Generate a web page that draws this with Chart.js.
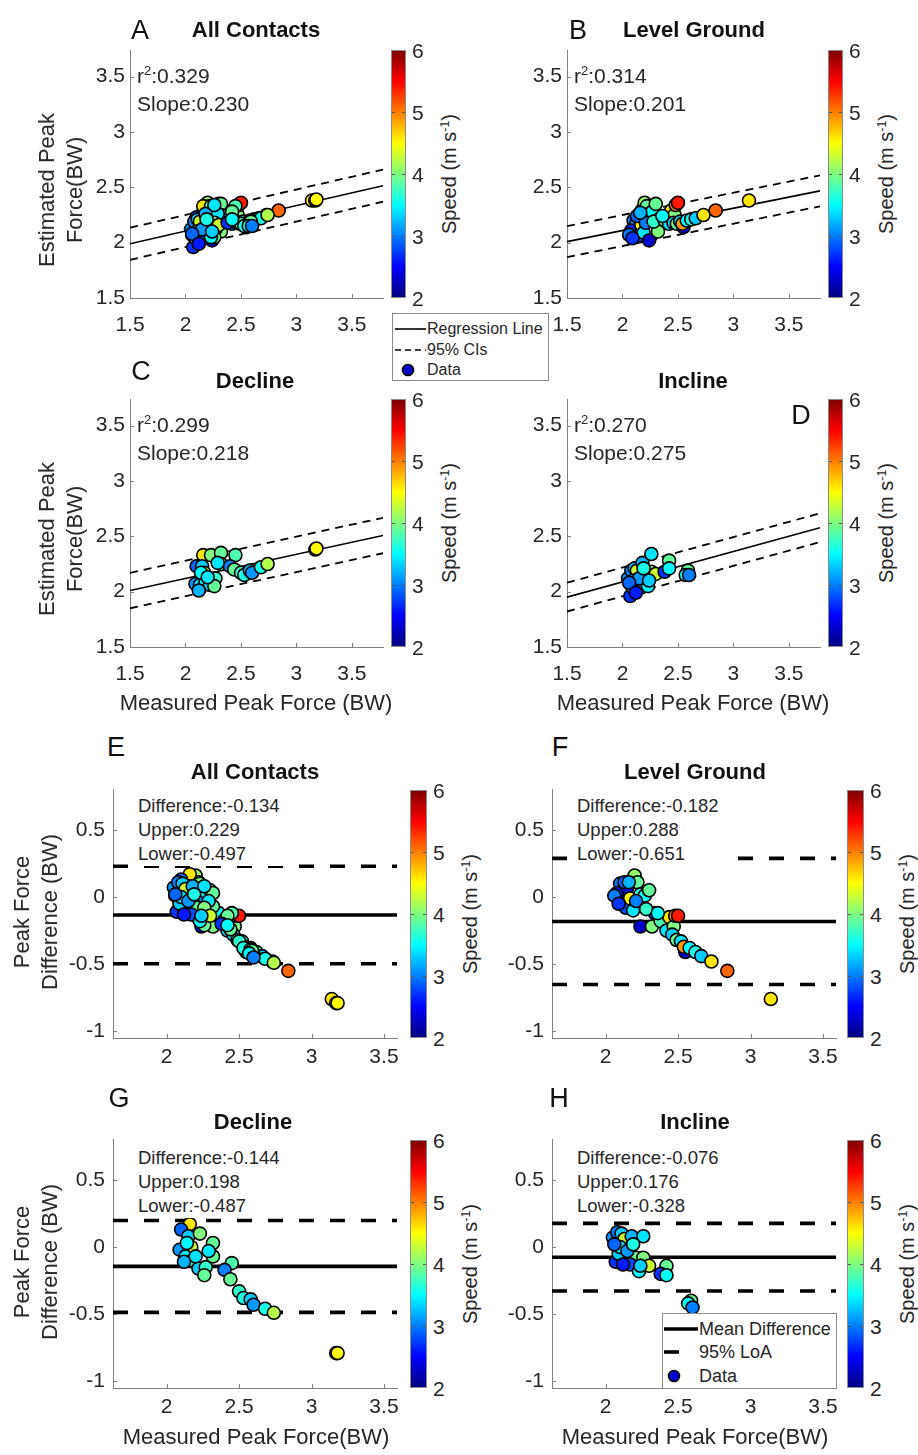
<!DOCTYPE html>
<html>
<head>
<meta charset="utf-8">
<script src="https://cdn.jsdelivr.net/npm/chart.js@4.4.1/dist/chart.umd.min.js"></script>
<style>
  html, body { margin: 0; padding: 0; background: #fff; }
  #fig { position: relative; width: 918px; height: 1455px; overflow: hidden;
         font-family: "Liberation Sans", Arial, Helvetica, sans-serif; color: #262626; }
  .abs { position: absolute; }
  .t { position: absolute; white-space: nowrap; line-height: 1; transform: translate(-50%, -50%); }
  .note { position: absolute; background: #fff; white-space: nowrap; z-index: 3; }
  .sup { font-size: 0.62em; position: relative; top: -0.55em; }
  .cb { position: absolute; box-sizing: border-box; border: 1px solid #8c8c8c; z-index: 2; }
  .cbt { position: absolute; background: #555; z-index: 3; }
  .legend { position: absolute; background: #fff; border: 1px solid #8c8c8c; box-sizing: border-box; z-index: 4; }
  .legend div { position: absolute; white-space: nowrap; line-height: 1; transform: translateY(-50%); }
  .legend svg { position: absolute; left: 0; top: 0; }
  .z { z-index: 3; }
</style>
</head>
<body>
<div id="fig"></div>
<script>
// ---- contact data, one set of arrays per surface ----
// measured peak force (BW), estimated peak force (BW),
// estimated minus measured (BW) and running speed (m/s)
const levelMeasured  = [2.10,2.12,2.08,2.15,2.18,2.20,2.22,2.14,2.17,2.19,2.24,2.27,2.24,2.30,2.32,2.34,2.13,2.21,2.28,2.38,2.42,2.44,2.47,2.48,2.50,2.46,2.49,2.52,2.55,2.54,2.58,2.62,2.66,2.73,2.84,3.14,2.06,2.09,2.16,2.36];
const levelEstimated = [2.20,2.16,2.11,2.22,2.30,2.36,2.33,2.06,2.16,2.09,2.26,2.28,2.02,2.35,2.10,2.22,2.24,2.18,2.19,2.20,2.17,2.29,2.25,2.34,2.36,2.18,2.17,2.19,2.14,2.17,2.20,2.21,2.22,2.25,2.29,2.38,2.07,2.04,2.27,2.24];
const levelDiff      = [0.10,0.04,0.03,0.07,0.12,0.16,0.11,-0.08,-0.01,-0.10,0.02,0.01,-0.22,0.05,-0.22,-0.12,0.11,-0.03,-0.09,-0.18,-0.25,-0.15,-0.22,-0.14,-0.14,-0.28,-0.32,-0.33,-0.41,-0.37,-0.38,-0.41,-0.44,-0.48,-0.55,-0.76,0.01,-0.05,0.11,-0.12];
const levelSpeed     = [3.0,3.2,2.6,2.4,3.3,4.1,3.9,2.8,4.5,3.4,3.6,3.5,2.3,3.9,4.0,2.6,2.9,3.0,3.7,3.8,3.4,4.6,4.0,5.0,5.4,3.3,3.9,3.4,2.3,4.9,3.5,3.6,3.3,4.6,5.1,4.6,3.0,2.7,3.2,3.5];

const declineMeasured  = [2.16,2.10,2.15,2.23,2.32,2.17,2.09,2.13,2.18,2.22,2.27,2.32,2.45,2.40,2.26,2.44,2.50,2.53,2.58,2.60,2.68,2.74,3.17,3.18,2.14,2.20,2.12,2.29];
const declineEstimated = [2.33,2.23,2.23,2.33,2.35,2.17,2.07,2.06,2.08,2.06,2.12,2.25,2.33,2.23,2.05,2.20,2.17,2.15,2.19,2.17,2.22,2.25,2.38,2.39,2.17,2.13,2.01,2.26];
const declineDiff      = [0.17,0.13,0.08,0.10,0.03,0.00,-0.02,-0.07,-0.10,-0.16,-0.15,-0.07,-0.12,-0.17,-0.21,-0.24,-0.33,-0.38,-0.39,-0.43,-0.46,-0.49,-0.79,-0.79,0.03,-0.07,-0.11,-0.03];
const declineSpeed     = [4.6,2.9,3.3,4.0,3.9,4.3,3.1,3.4,3.5,3.3,3.7,3.9,3.8,3.0,3.9,3.9,3.7,3.6,3.3,3.1,3.6,4.2,4.4,4.5,3.5,3.4,3.2,3.4];

const inclineMeasured  = [2.05,2.08,2.11,2.13,2.18,2.26,2.07,2.09,2.21,2.26,2.17,2.30,2.23,2.42,2.38,2.42,2.59,2.57,2.60,2.10,2.15,2.19,2.24,2.06,2.12];
const inclineEstimated = [2.12,2.19,2.21,2.19,2.26,2.34,1.96,2.04,2.13,2.18,2.04,2.16,2.05,2.28,2.18,2.21,2.19,2.15,2.15,2.10,2.12,2.21,2.10,2.08,1.99];
const inclineDiff      = [0.07,0.11,0.10,0.06,0.08,0.08,-0.11,-0.05,-0.08,-0.08,-0.13,-0.14,-0.18,-0.14,-0.20,-0.21,-0.40,-0.42,-0.45,0.00,-0.03,0.02,-0.14,0.02,-0.13];
const inclineSpeed     = [3.1,3.0,3.3,4.3,3.2,3.4,2.7,3.3,3.9,4.0,2.8,4.3,3.5,3.9,2.7,3.5,3.9,3.5,3.0,3.4,3.1,3.6,3.3,2.9,2.6];

// all contacts = every surface pooled
const allMeasured  = levelMeasured.concat(declineMeasured, inclineMeasured);
const allEstimated = levelEstimated.concat(declineEstimated, inclineEstimated);
const allDiff      = levelDiff.concat(declineDiff, inclineDiff);
const allSpeed     = levelSpeed.concat(declineSpeed, inclineSpeed);

// ---- fit and agreement statistics (All, Level, Decline, Incline) ----
const panelTitles  = ['All Contacts', 'Level Ground', 'Decline', 'Incline'];
const rSquared     = [0.329, 0.314, 0.299, 0.270];
const regSlope     = [0.230, 0.201, 0.218, 0.275];
const regIntercept = [1.645, 1.708, 1.683, 1.538];
const ciHalfWidth  = [0.145, 0.140, 0.160, 0.130];
const meanDiff     = [-0.134, -0.182, -0.144, -0.076];
const upperLoA     = [0.229, 0.288, 0.198, 0.176];
const lowerLoA     = [-0.497, -0.651, -0.487, -0.328];

// ---- axis ticks ----
const forceTicks = [1.5, 2, 2.5, 3, 3.5];
const baXTicks   = [2, 2.5, 3, 3.5];
const baYTicks   = [-1, -0.5, 0, 0.5];
const speedTicks = [2, 3, 4, 5, 6];

const groups = [
  { m: allMeasured,     e: allEstimated,     d: allDiff,     s: allSpeed },
  { m: levelMeasured,   e: levelEstimated,   d: levelDiff,   s: levelSpeed },
  { m: declineMeasured, e: declineEstimated, d: declineDiff, s: declineSpeed },
  { m: inclineMeasured, e: inclineEstimated, d: inclineDiff, s: inclineSpeed }
];

// ---- drawing ----
const fig = document.getElementById('fig');
const FONT = '"Liberation Sans", Arial, Helvetica, sans-serif';
const INK = '#262626';
const AXIS = '#808080';

// MATLAB-style jet colour map over the speed range
function jet(v) {
  const lo = speedTicks[0], hi = speedTicks[speedTicks.length - 1];
  const t = (v - lo) / (hi - lo);
  const c = u => Math.round(255 * Math.max(0, Math.min(1, u)));
  return 'rgb(' + c(1.5 - Math.abs(4 * t - 3)) + ',' + c(1.5 - Math.abs(4 * t - 2)) + ',' + c(1.5 - Math.abs(4 * t - 1)) + ')';
}

function addText(html, cx, cy, style) {
  const d = document.createElement('div');
  d.className = 't z';
  d.innerHTML = html;
  d.style.left = cx + 'px';
  d.style.top = cy + 'px';
  Object.assign(d.style, style || {});
  fig.appendChild(d);
  return d;
}

// small inward tick marks on the left and bottom axes
const innerTicks = {
  id: 'innerTicks',
  beforeDatasetsDraw(chart) {
    const { ctx, chartArea: a, scales: { x, y } } = chart;
    ctx.save();
    ctx.strokeStyle = AXIS;
    ctx.lineWidth = 1;
    x.ticks.forEach(t => {
      const px = Math.round(x.getPixelForValue(t.value)) + 0.5;
      ctx.beginPath(); ctx.moveTo(px, a.bottom); ctx.lineTo(px, a.bottom - 4); ctx.stroke();
    });
    y.ticks.forEach(t => {
      const py = Math.round(y.getPixelForValue(t.value)) + 0.5;
      ctx.beginPath(); ctx.moveTo(a.left, py); ctx.lineTo(a.left + 4, py); ctx.stroke();
    });
    ctx.restore();
  }
};

function makeChart(o) {
  const YW = 64, XH = 50, PT = 20, PR = 20;
  const wrap = document.createElement('div');
  wrap.className = 'abs';
  fig.appendChild(wrap);
  const canvas = document.createElement('canvas');
  wrap.appendChild(canvas);

  const axisCommon = (ticks, pad) => ({
    type: 'linear',
    afterBuildTicks: s => { s.ticks = ticks.map(v => ({ value: v })); },
    ticks: { font: { family: FONT, size: 21 }, color: INK, padding: pad,
             autoSkip: false, maxRotation: 0, callback: v => String(v) },
    grid: { drawOnChartArea: false, drawTicks: false },
    border: { color: AXIS, width: 1 }
  });

  const config = {
    type: 'scatter',
    data: { datasets: o.datasets },
    options: {
      responsive: false,
      animation: false,
      devicePixelRatio: 1,
      events: [],
      layout: { padding: { top: PT, right: PR, left: 0, bottom: 0 } },
      plugins: { legend: { display: false }, tooltip: { enabled: false } },
      scales: {
        x: Object.assign(axisCommon(o.xTicks, o.xPad), { min: o.xMin, max: o.xMax, afterFit: s => { s.height = XH; } }),
        y: Object.assign(axisCommon(o.yTicks, o.yPad), { min: o.yMin, max: o.yMax, afterFit: s => { s.width = YW; } })
      }
    },
    plugins: [innerTicks]
  };

  function build(w, h) {
    canvas.width = w; canvas.height = h;
    canvas.style.width = w + 'px'; canvas.style.height = h + 'px';
    return new Chart(canvas, config);
  }

  let w = YW + o.plotW + PR, h = PT + o.plotH + XH;
  let chart = build(w, h);
  let ca = chart.chartArea;
  const dw = o.plotW - (ca.right - ca.left), dh = o.plotH - (ca.bottom - ca.top);
  if (Math.abs(dw) > 0.5 || Math.abs(dh) > 0.5) {
    chart.destroy();
    w = Math.round(w + dw); h = Math.round(h + dh);
    chart = build(w, h);
    ca = chart.chartArea;
  }
  wrap.style.left = (o.left - ca.left) + 'px';
  wrap.style.top = (o.top - ca.top) + 'px';
  return chart;
}

function pointData(xs, ys) {
  return xs.map((x, i) => ({ x: x, y: ys[i] }));
}

function addColorbar(left, top, width, height, labelCx) {
  const bar = document.createElement('div');
  bar.className = 'cb';
  const stops = [0, 0.125, 0.375, 0.625, 0.875, 1].map(t => {
    const v = speedTicks[0] + t * (speedTicks[speedTicks.length - 1] - speedTicks[0]);
    return jet(v) + ' ' + (t * 100) + '%';
  });
  Object.assign(bar.style, {
    left: left + 'px', top: top + 'px', width: width + 'px', height: height + 'px',
    background: 'linear-gradient(to top, ' + stops.join(', ') + ')'
  });
  fig.appendChild(bar);
  const lo = speedTicks[0], hi = speedTicks[speedTicks.length - 1];
  speedTicks.forEach(v => {
    const y = top + height * (1 - (v - lo) / (hi - lo));
    addText(String(v), left + width + 6, y, { fontSize: '21px', transform: 'translate(0, -50%)' });
    if (v !== lo && v !== hi) {
      [left + 1, left + width - 4].forEach(x => {
        const tk = document.createElement('div');
        tk.className = 'cbt';
        Object.assign(tk.style, { left: x + 'px', top: Math.round(y) + 'px', width: '3px', height: '1px' });
        fig.appendChild(tk);
      });
    }
  });
  addText('Speed (m s<span class="sup">-1</span>)', labelCx, top + height / 2,
          { fontSize: '20px', transform: 'translate(-50%, -50%) rotate(-90deg)' });
}

function addNote(lines, left, top, fontSize, lineH, width) {
  const d = document.createElement('div');
  d.className = 'note';
  d.innerHTML = lines.join('<br>');
  Object.assign(d.style, {
    left: left + 'px', top: top + 'px', fontSize: fontSize + 'px', lineHeight: lineH + 'px',
    paddingLeft: '3px'
  });
  if (width) d.style.width = width + 'px';
  fig.appendChild(d);
}

// ---- panel placement ----
const SC_W = 253, SC_H = 248, SC_XMIN = 1.5, SC_XMAX = 3.78, SC_YMIN = 1.5, SC_YMAX = 3.74;
const BA_W = 284, BA_H = 248, BA_XMIN = 1.63, BA_XMAX = 3.59, BA_YMIN = -1.05, BA_YMAX = 0.8;

const scatterPanels = [
  { letter: 'A', left: 130, top: 50,  letterAt: [140, 30],  titleAt: [256, 30],  cb: 391 },
  { letter: 'B', left: 567, top: 50,  letterAt: [578, 30],  titleAt: [694, 30],  cb: 828 },
  { letter: 'C', left: 130, top: 399, letterAt: [141, 371], titleAt: [255, 381], cb: 391 },
  { letter: 'D', left: 567, top: 399, letterAt: [801, 415], titleAt: [693, 381], cb: 828 }
];
const baPanels = [
  { letter: 'E', left: 113, top: 790,  letterAt: [116, 747],  titleAt: [255, 772],  cb: 410 },
  { letter: 'F', left: 552, top: 790,  letterAt: [560, 747],  titleAt: [695, 772],  cb: 847 },
  { letter: 'G', left: 113, top: 1140, letterAt: [119, 1098], titleAt: [253, 1122], cb: 410 },
  { letter: 'H', left: 552, top: 1140, letterAt: [559, 1098], titleAt: [695, 1122], cb: 847 }
];

// regression panels A-D
scatterPanels.forEach((p, i) => {
  const g = groups[i];
  const line = off => [
    { x: SC_XMIN, y: regIntercept[i] + regSlope[i] * SC_XMIN + off },
    { x: SC_XMAX, y: regIntercept[i] + regSlope[i] * SC_XMAX + off }
  ];
  makeChart({
    left: p.left, top: p.top, plotW: SC_W, plotH: SC_H,
    xMin: SC_XMIN, xMax: SC_XMAX, yMin: SC_YMIN, yMax: SC_YMAX,
    xTicks: forceTicks, yTicks: forceTicks, xPad: 15, yPad: 5,
    datasets: [
      { data: pointData(g.m, g.e), pointRadius: 6.5, pointBorderWidth: 1.6,
        pointBorderColor: '#000', pointBackgroundColor: g.s.map(jet), order: 0 },
      { data: line(0), showLine: true, pointRadius: 0, borderColor: '#000', borderWidth: 1.6, order: 1 },
      { data: line(ciHalfWidth[i]), showLine: true, pointRadius: 0, borderColor: '#000', borderWidth: 1.8, borderDash: [8, 6], order: 1 },
      { data: line(-ciHalfWidth[i]), showLine: true, pointRadius: 0, borderColor: '#000', borderWidth: 1.8, borderDash: [8, 6], order: 1 }
    ]
  });
});

// Bland-Altman panels E-H
baPanels.forEach((p, i) => {
  const g = groups[i];
  const hline = v => [{ x: BA_XMIN, y: v }, { x: BA_XMAX, y: v }];
  makeChart({
    left: p.left, top: p.top, plotW: BA_W, plotH: BA_H,
    xMin: BA_XMIN, xMax: BA_XMAX, yMin: BA_YMIN, yMax: BA_YMAX,
    xTicks: baXTicks, yTicks: baYTicks, xPad: 7, yPad: 8,
    datasets: [
      { data: pointData(g.m, g.d), pointRadius: 6.5, pointBorderWidth: 1.6,
        pointBorderColor: '#000', pointBackgroundColor: g.s.map(jet), order: 0 },
      { data: hline(meanDiff[i]), showLine: true, pointRadius: 0, borderColor: '#000', borderWidth: 3.6, order: 1 },
      { data: hline(upperLoA[i]), showLine: true, pointRadius: 0, borderColor: '#000', borderWidth: 3.6, borderDash: [15, 16], order: 1 },
      { data: hline(lowerLoA[i]), showLine: true, pointRadius: 0, borderColor: '#000', borderWidth: 3.6, borderDash: [15, 16], order: 1 }
    ]
  });
});

// ---- annotations, titles, colour bars ----
scatterPanels.forEach((p, i) => {
  addText(p.letter, p.letterAt[0], p.letterAt[1], { fontSize: '27px', color: '#111' });
  addText(panelTitles[i], p.titleAt[0], p.titleAt[1], { fontSize: '22px', fontWeight: 'bold', color: '#111' });
  addNote(['r<span class="sup">2</span>:' + rSquared[i].toFixed(3), 'Slope:' + regSlope[i].toFixed(3)],
          p.left + 4, p.top + 12.5, 21, 25);
  addColorbar(p.cb, p.top, 15, SC_H, p.cb + 58);
});

baPanels.forEach((p, i) => {
  addText(p.letter, p.letterAt[0], p.letterAt[1], { fontSize: '27px', color: '#111' });
  addText(panelTitles[i], p.titleAt[0], p.titleAt[1], { fontSize: '22px', fontWeight: 'bold', color: '#111' });
  addNote(['Difference:' + meanDiff[i].toFixed(3), 'Upper:' + upperLoA[i].toFixed(3), 'Lower:' + lowerLoA[i].toFixed(3)],
          p.left + 22, p.top + (i < 2 ? 3.5 : 6), 18.5, 24, 156);
  addColorbar(p.cb, p.top, 17, BA_H, p.cb + 60);
});

// axis titles
const rotate = { transform: 'translate(-50%, -50%) rotate(-90deg)', fontSize: '22px', lineHeight: '28px', textAlign: 'center' };
addText('Estimated Peak<br>Force(BW)', 61, 190, rotate);
addText('Estimated Peak<br>Force(BW)', 61, 539, rotate);
addText('Peak Force<br>Difference (BW)', 36, 912, rotate);
addText('Peak Force<br>Difference (BW)', 36, 1262, rotate);
addText('Measured Peak Force (BW)', 256, 703, { fontSize: '22px' });
addText('Measured Peak Force (BW)', 693, 703, { fontSize: '22px' });
addText('Measured Peak Force(BW)', 256, 1437, { fontSize: '22px' });
addText('Measured Peak Force(BW)', 695, 1437, { fontSize: '22px' });

// ---- legends ----
function addLegend(left, top, width, height, fontSize, rows, textX) {
  const box = document.createElement('div');
  box.className = 'legend';
  Object.assign(box.style, { left: left + 'px', top: top + 'px', width: width + 'px', height: height + 'px', fontSize: fontSize + 'px' });
  let svg = '<svg width="' + width + '" height="' + height + '">';
  rows.forEach(r => {
    if (r.kind === 'dot') {
      svg += '<circle cx="' + r.x1 + '" cy="' + r.y + '" r="5.5" fill="#0000cc" stroke="#000" stroke-width="1.6"/>';
    } else {
      svg += '<line x1="' + r.x1 + '" y1="' + r.y + '" x2="' + r.x2 + '" y2="' + r.y + '" stroke="#000" stroke-width="' + r.w + '"' +
             (r.dash ? ' stroke-dasharray="' + r.dash + '"' : '') + '/>';
    }
  });
  svg += '</svg>';
  box.innerHTML = svg + rows.map(r => '<div style="left:' + textX + 'px;top:' + r.y + 'px">' + r.text + '</div>').join('');
  fig.appendChild(box);
}

addLegend(392, 313, 157, 68, 16, [
  { kind: 'line', x1: 2, x2: 33, y: 15, w: 1.6, text: 'Regression Line' },
  { kind: 'line', x1: 2, x2: 33, y: 36, w: 1.6, dash: '6 4', text: '95% CIs' },
  { kind: 'dot',  x1: 15, y: 56, text: 'Data' }
], 34);

addLegend(662, 1313, 175, 76, 18, [
  { kind: 'line', x1: 1, x2: 35, y: 15, w: 3.6, text: 'Mean Difference' },
  { kind: 'line', x1: 1, x2: 16, y: 38, w: 3.6, text: '95% LoA' },
  { kind: 'dot',  x1: 11, y: 62, text: 'Data' }
], 36);
</script>
</body>
</html>
